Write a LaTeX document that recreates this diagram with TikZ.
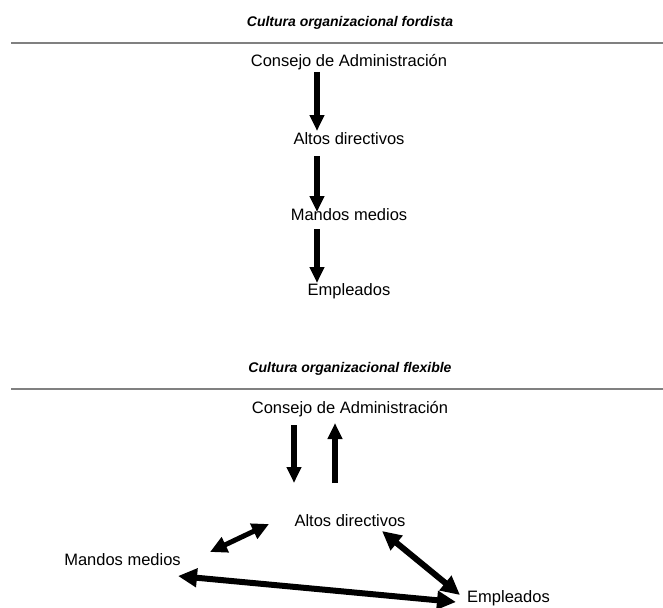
\documentclass[tikz,border=0pt]{standalone}
\usepackage{fontspec}
\setmainfont{Liberation Sans}
\usetikzlibrary{arrows.meta}
\definecolor{rulegray}{HTML}{808080}
\begin{document}
\begin{tikzpicture}[x=1pt,y=-1pt,
  lbl/.style={inner sep=0pt, anchor=base, font=\fontsize{16.5}{18}\selectfont},
  ttl/.style={inner sep=0pt, anchor=base, font=\fontsize{14}{16}\selectfont\bfseries\itshape},
  rulel/.style={draw=rulegray, line width=1.6pt},
  arr/.style={line width=5.5pt, -{Triangle[length=16pt,width=14pt]}},
  darr/.style={line width=5pt, {Triangle[length=17pt,width=16pt]}-{Triangle[length=17pt,width=16pt]}},
  barr/.style={line width=6pt, {Triangle[length=19pt,width=18pt]}-{Triangle[length=19pt,width=18pt]}}]
\useasboundingbox (0,0) rectangle (663,607);
% Section 1
\node[ttl] (t1) at (350,27) {Cultura organizacional fordista};
\draw[rulel] (11,43) -- (663,43);
\node[lbl] (c1) at (349,67) {Consejo de Administración};
\node[lbl] (a1) at (349,144) {Altos directivos};
\node[lbl] (m1) at (349,220) {Mandos medios};
\node[lbl] (e1) at (349,295) {Empleados};
\draw[arr] ([shift={(-32,5)}]c1.base) -- ([shift={(-32,-13)}]a1.base);
\draw[arr] ([shift={(-32,12)}]a1.base) -- ([shift={(-32,-8)}]m1.base);
\draw[arr] ([shift={(-32,9)}]m1.base) -- ([shift={(-32,-12)}]e1.base);
% Section 2
\node[ttl] (t2) at (350,372) {Cultura organizacional flexible};
\draw[rulel] (11,389) -- (663,389);
\node[lbl] (c2) at (350,413) {Consejo de Administración};
\node[lbl] (a2) at (350,526) {Altos directivos};
\node[lbl] (m2) at (122.5,565) {Mandos medios};
\node[lbl] (e2) at (508.5,602) {Empleados};
\draw[arr] ([shift={(-56,12)}]c2.base) -- ([shift={(-56,-43)}]a2.base);
\draw[arr] ([shift={(-15,-43)}]a2.base) -- ([shift={(-15,10)}]c2.base);
\draw[darr] ([shift={(87.5,-13)}]m2.base) -- ([shift={(-81,-2)}]a2.base);
\draw[barr] ([shift={(32,5)}]a2.base) -- ([shift={(-48.5,-7)}]e2.base);
\draw[barr] ([shift={(55.5,11)}]m2.base) -- ([shift={(-52.5,0)}]e2.base);
\end{tikzpicture}
\end{document}
